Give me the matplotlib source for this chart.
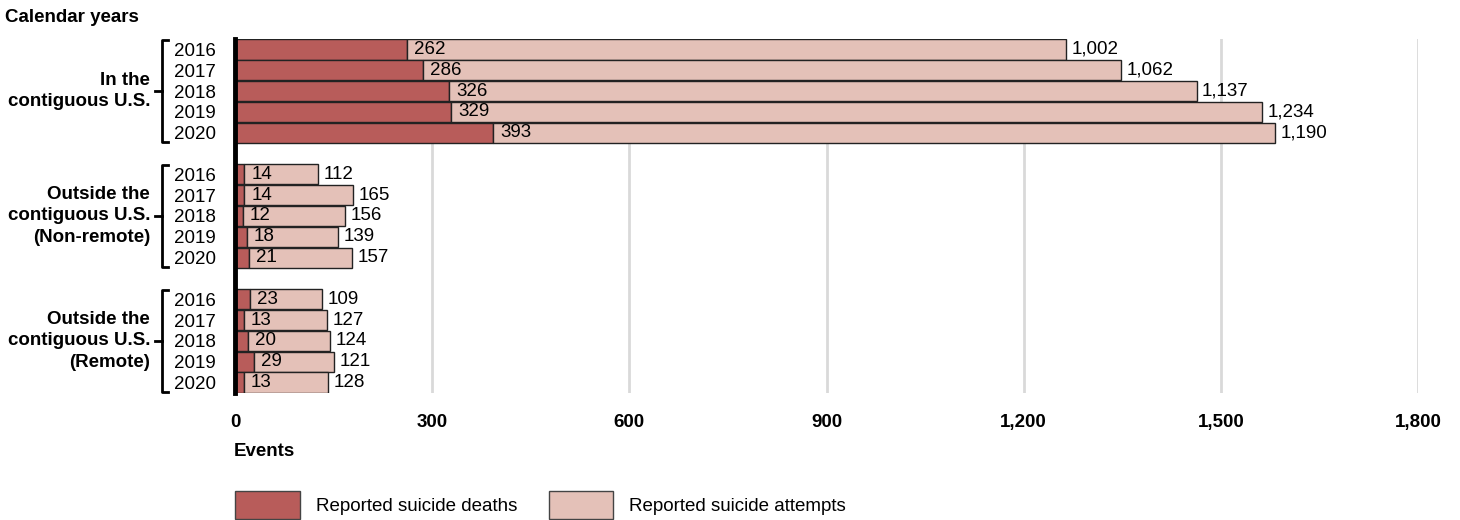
import matplotlib.pyplot as plt
from matplotlib.patches import Patch
from matplotlib.transforms import blended_transform_factory

plt.rcParams['font.family'] = ['Liberation Sans', 'DejaVu Sans']

# data
groups = ["In the\ncontiguous U.S.",
          "Outside the\ncontiguous U.S.\n(Non-remote)",
          "Outside the\ncontiguous U.S.\n(Remote)"]
years = ["2016", "2017", "2018", "2019", "2020"]
deaths = [[262, 286, 326, 329, 393],
          [14, 14, 12, 18, 21],
          [23, 13, 20, 29, 13]]
attempts = [[1002, 1062, 1137, 1234, 1190],
            [112, 165, 156, 139, 157],
            [109, 127, 124, 121, 128]]
x_ticks = [0, 300, 600, 900, 1200, 1500, 1800]

death_color = "#B85C5A"
attempt_color = "#E4C1B8"
W, H = 1460, 520
FS = 13.5

fig = plt.figure(figsize=(W / 100, H / 100), dpi=100)
ax = fig.add_axes([235 / W, 1 - 393 / H, (1418 - 235) / W, (393 - 39) / H])

positions = []
for g in range(len(groups)):
    for i in range(len(years)):
        y = g * 6 + i
        positions.append(y)
        d = deaths[g][i]
        a = attempts[g][i]
        ax.barh(y, d, height=0.97, color=death_color, edgecolor="#222222", linewidth=1, zorder=3)
        ax.barh(y, a, left=d, height=0.97, color=attempt_color, edgecolor="#222222", linewidth=1, zorder=3)
        ax.annotate(f"{d:,}", (d, y), xytext=(5, 0), textcoords="offset points",
                    ha="left", va="center", fontsize=FS, zorder=4)
        ax.annotate(f"{a:,}", (d + a, y), xytext=(4, 0), textcoords="offset points",
                    ha="left", va="center", fontsize=FS, zorder=4)

ax.set_xlim(0, 1800)
ax.set_ylim(16.5, -0.5)
ax.set_xticks(x_ticks)
ax.set_xticklabels([f"{t:,}" for t in x_ticks], fontweight="bold", fontsize=FS)
ax.tick_params(axis="x", length=0, pad=15)
ax.set_yticks(positions)
ax.set_yticklabels(years * len(groups), fontsize=FS)
ax.tick_params(axis="y", length=0, pad=14)
for t in x_ticks[1:]:
    ax.axvline(t, color="#D9D9D9", linewidth=2, zorder=1)
for s in ["top", "right", "bottom"]:
    ax.spines[s].set_visible(False)
ax.spines["left"].set_linewidth(3.5)
ax.spines["left"].set_color("black")
ax.spines["left"].set_zorder(5)

# group brackets and labels
tr = blended_transform_factory(fig.transFigure, ax.transData)
bx, bx2, bxm = 162 / W, 168 / W, 155 / W
for g, name in enumerate(groups):
    y0 = g * 6 - 0.45
    y1 = g * 6 + 4.45
    ym = g * 6 + 2
    ax.plot([bx2, bx, bx, bx2], [y0, y0, y1, y1], color="black", linewidth=2,
            transform=tr, clip_on=False)
    ax.plot([bxm, bx], [ym, ym], color="black", linewidth=2, transform=tr, clip_on=False)
    ax.text(150 / W, ym, name, transform=tr, ha="right", va="center",
            fontsize=FS, fontweight="bold", multialignment="right", linespacing=1.35)

fig.text(5 / W, 1 - 17 / H, "Calendar years", fontsize=FS, fontweight="bold", va="center")
fig.text(234 / W, 1 - 451 / H, "Events", fontsize=FS, fontweight="bold", va="center")

handles = [Patch(facecolor=death_color, edgecolor="#444444", label="Reported suicide deaths"),
           Patch(facecolor=attempt_color, edgecolor="#444444", label="Reported suicide attempts")]
fig.legend(handles=handles, ncol=2, frameon=False, fontsize=FS,
           loc="center left", bbox_to_anchor=(233 / W, 1 - 505 / H),
           handlelength=3.45, handleheight=2.0, handletextpad=0.85, columnspacing=1.7,
           borderaxespad=0, borderpad=0.1)

fig.savefig("out.png", dpi=100)
